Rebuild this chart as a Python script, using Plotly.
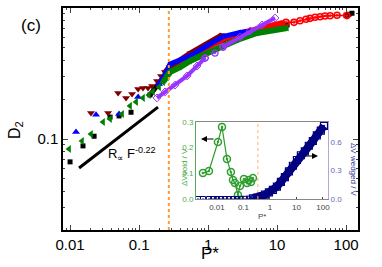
import plotly.graph_objects as go
import math

# ---------------- main panel data ----------------
black_p = [0.0100, 0.0154, 0.0223, 0.038, 0.0513, 0.0765, 0.144, 0.238, 0.548, 0.968, 1.65, 2.91, 5.13, 8.75, 14.0, 100, 110, 122]
black_d = [0.0669, 0.0886, 0.105, 0.147, 0.150, 0.160, 0.217, 0.308, 0.408, 0.504, 0.570, 0.633, 0.679, 0.716, 0.742, 0.880, 0.895, 0.912]

brown_sp_p = [0.0201, 0.0356, 0.0497, 0.0648, 0.0792, 0.0969, 0.114, 0.135, 0.154, 0.182, 0.208, 0.238]
brown_sp_d = [0.158, 0.158, 0.224, 0.206, 0.221, 0.241, 0.245, 0.245, 0.254, 0.277, 0.303, 0.325]
brown_bd_p = [0.238, 0.272, 0.548, 0.968, 1.60]
brown_bd_d = [0.325, 0.354, 0.453, 0.535, 0.625]

blue_sp_p = [0.0122, 0.0238, 0.0513, 0.0969, 0.195]
blue_sp_d = [0.113, 0.153, 0.155, 0.209, 0.263]
blue_bd_p = [0.195, 0.238, 0.281, 0.548, 0.847, 1.65, 2.91, 4.06]
blue_bd_d = [0.263, 0.308, 0.374, 0.430, 0.495, 0.605, 0.650, 0.664]

red_bd_p = [0.281, 0.548, 0.968, 1.65, 2.91, 5.13, 8.75, 12.2]
red_bd_d = [0.360, 0.430, 0.512, 0.580, 0.640, 0.691, 0.742, 0.768]
red_sp_p = [13.5, 17.6, 21.5, 26.3, 30.1, 35.6, 42.0, 49.6, 58.7, 74.0, 103]
red_sp_d = [0.777, 0.777, 0.800, 0.820, 0.834, 0.849, 0.858, 0.869, 0.873, 0.880, 0.875]

green_sp_p = [0.00967, 0.0149, 0.0201, 0.0301, 0.038, 0.0567, 0.074, 0.0906, 0.114, 0.139, 0.159, 0.195, 0.223, 0.255]
green_sp_d = [0.0839, 0.0966, 0.109, 0.135, 0.142, 0.155, 0.179, 0.192, 0.206, 0.217, 0.229, 0.249, 0.272, 0.298]
green_bd_p = [0.223, 0.255, 0.281, 0.393, 0.548, 0.847, 1.49, 2.63, 5.13, 8.47, 14.0]
green_bd_d = [0.272, 0.298, 0.325, 0.354, 0.394, 0.438, 0.504, 0.570, 0.645, 0.679, 0.704]

purple_bd_p = [0.182, 0.238, 0.333, 0.497, 0.693, 0.906]
purple_bd_d = [0.206, 0.229, 0.258, 0.303, 0.361, 0.415]
purple_sp_p = [0.906, 1.26, 1.65]
purple_sp_d = [0.415, 0.453, 0.504]
purple_bd2_p = [1.65, 2.91, 4.06, 6.06, 9.35]
purple_bd2_d = [0.504, 0.601, 0.667, 0.742, 0.839]

fit_p = [0.0135, 0.188]
fit_d = [0.060, 0.175]

pstar_line = 0.27

x_ticks = [0.01, 0.1, 1, 10, 100]
x_labels = ["0.01", "0.1", "1", "10", "100"]
y_ticks = [0.1, 1]
y_labels = ["0.1", "1"]

# ---------------- inset data ----------------
void_p = [0.00296, 0.00499, 0.0109, 0.0155, 0.0239, 0.0337, 0.0402, 0.0478, 0.062, 0.0738, 0.104, 0.136, 0.161, 0.192, 0.228]
void_v = [0.101, 0.109, 0.222, 0.281, 0.156, 0.105, 0.074, 0.062, 0.016, 0.051, 0.078, 0.062, 0.074, 0.066, 0.082]

wedged_flat_p = [0.00192, 0.00296, 0.005, 0.00706, 0.01, 0.0142, 0.02, 0.0284, 0.0402, 0.0569, 0.0805, 0.114, 0.161, 0.228]
wedged_flat_v = [0, 0, 0, 0, 0, 0, 0, 0, 0, 0, 0.001, 0.002, 0.004, 0.008]
wedged_rise_p = [0.228, 0.323, 0.457, 0.646, 0.914, 1.29, 1.83, 2.59, 3.66, 5.18, 7.33, 10.4, 14.7, 20.7, 29.3, 41.5, 58.6, 82.9, 109]
wedged_rise_v = [0.008, 0.015, 0.03, 0.045, 0.07, 0.095, 0.13, 0.18, 0.23, 0.29, 0.35, 0.41, 0.46, 0.50, 0.56, 0.61, 0.67, 0.72, 0.77]

inset_x_ticks = [0.01, 0.1, 1, 10, 100]
inset_x_labels = ["0.01", "0.1", "1", "10", "100"]
inset_left_ticks = [0.0, 0.1, 0.2, 0.3]
inset_left_labels = ["0.0", "0.1", "0.2", "0.3"]
inset_right_ticks = [0.0, 0.3, 0.6]
inset_right_labels = ["0.0", "0.3", "0.6"]

# ---------------- colours ----------------
C_BLACK = "#000000"
C_BROWN = "#800000"
C_BLUE = "#0000FF"
C_RED = "#FF0000"
C_GREEN = "#008000"
C_PURPLE = "#9933FF"
C_ORANGE = "#FF9933"
C_IGREEN = "#2E9E2E"
C_NAVY = "#000080"

W, H = 382, 267
ML, MR, MT, MB = 63, 24, 8, 37
PW, PH = W - ML - MR, H - MT - MB


def px(x):
    return (x - ML) / PW


def py(y):
    return (H - MB - y) / PH


fig = go.Figure()


def sparse(p, d, color, symbol, size=7, xa="x", ya="y"):
    fig.add_trace(go.Scatter(x=p, y=d, mode="markers", xaxis=xa, yaxis=ya,
                             marker=dict(color=color, symbol=symbol, size=size,
                                         line=dict(width=0, color=color)),
                             showlegend=False, hoverinfo="skip"))


def band(p, d, color, symbol, size=6, width=5):
    fig.add_trace(go.Scatter(x=p, y=d, mode="lines+markers",
                             line=dict(color=color, width=width),
                             marker=dict(color=color, symbol=symbol, size=size),
                             showlegend=False, hoverinfo="skip"))


# black squares
band(black_p[6:15], black_d[6:15], C_BLACK, "square", 5, 5)
sparse(black_p[:6], black_d[:6], C_BLACK, "square", 5)
band(black_p[15:], black_d[15:], C_BLACK, "square", 5, 4)
# red circles (under the others on the left)
band(red_bd_p, red_bd_d, C_RED, "circle", 5, 6)
fig.add_trace(go.Scatter(x=red_sp_p, y=red_sp_d, mode="lines+markers",
                         line=dict(color=C_RED, width=1.5),
                         marker=dict(color=C_RED, symbol="circle-open-dot", size=6, line=dict(width=1.6)),
                         showlegend=False, hoverinfo="skip"))
# brown down-triangles
sparse(brown_sp_p, brown_sp_d, C_BROWN, "triangle-down", 7)
band(brown_bd_p, brown_bd_d, C_BROWN, "triangle-down", 6, 5)
# blue up-triangles
sparse(blue_sp_p, blue_sp_d, C_BLUE, "triangle-up", 7)
band(blue_bd_p, blue_bd_d, C_BLUE, "triangle-up", 6, 5)
# green left-triangles
sparse(green_sp_p, green_sp_d, C_GREEN, "triangle-left", 7)
band(green_bd_p, green_bd_d, C_GREEN, "triangle-left", 6, 6)
# purple diamonds
band(purple_bd_p, purple_bd_d, C_PURPLE, "diamond-open", 6, 4)
fig.add_trace(go.Scatter(x=purple_sp_p, y=purple_sp_d, mode="markers",
                         marker=dict(color=C_PURPLE, symbol="circle-open-dot", size=6, line=dict(width=1.3)),
                         showlegend=False, hoverinfo="skip"))
band(purple_bd2_p, purple_bd2_d, C_PURPLE, "diamond-open", 6, 4)

# power-law guide line
fig.add_trace(go.Scatter(x=fit_p, y=fit_d, mode="lines", line=dict(color="black", width=3),
                         showlegend=False, hoverinfo="skip"))

# ---------------- inset traces ----------------
fig.add_trace(go.Scatter(x=wedged_flat_p, y=wedged_flat_v, mode="markers", xaxis="x2", yaxis="y3",
                         marker=dict(color=C_NAVY, symbol="square-open-dot", size=5, line=dict(width=1)),
                         showlegend=False, hoverinfo="skip"))
fig.add_trace(go.Scatter(x=wedged_rise_p, y=wedged_rise_v, mode="lines+markers", xaxis="x2", yaxis="y3",
                         line=dict(color=C_NAVY, width=8),
                         marker=dict(color=C_NAVY, symbol="square-open-dot", size=7, line=dict(width=1.2)),
                         showlegend=False, hoverinfo="skip"))
fig.add_trace(go.Scatter(x=void_p, y=void_v, mode="lines+markers", xaxis="x2", yaxis="y2",
                         line=dict(color=C_IGREEN, width=1.2),
                         marker=dict(color=C_IGREEN, symbol="circle-open-dot", size=7,
                                     line=dict(width=1.5, color=C_IGREEN)),
                         showlegend=False, hoverinfo="skip"))

FONT = "Liberation Sans, Arial, sans-serif"

fig.update_layout(
    width=W, height=H,
    margin=dict(l=ML, r=MR, t=MT, b=MB, autoexpand=False),
    paper_bgcolor="white", plot_bgcolor="white",
    font=dict(family=FONT, color="black"),
    xaxis=dict(type="log", range=[math.log10(0.0079), math.log10(149)], automargin=False,
               tickvals=x_ticks, ticktext=x_labels, tickfont=dict(size=15),
               ticks="inside", ticklen=5, tickwidth=1, showline=True, linecolor="black",
               linewidth=1.5, mirror="allticks", showgrid=False, zeroline=False,
               minor=dict(ticks="inside", ticklen=2.5, tickwidth=0.8, dtick="D1", showgrid=False)),
    yaxis=dict(type="log", range=[math.log10(0.0202), 0], automargin=False,
               tickvals=y_ticks, ticktext=y_labels, tickfont=dict(size=15),
               ticks="inside", ticklen=5, tickwidth=1, showline=True, linecolor="black",
               linewidth=1.5, mirror="allticks", showgrid=False, zeroline=False,
               minor=dict(ticks="inside", ticklen=2.5, tickwidth=0.8, dtick="D1", showgrid=False)),
    xaxis2=dict(type="log", domain=[px(196), px(328)], anchor="y2", automargin=False,
                range=[-2.79, 2.19], tickvals=inset_x_ticks, ticktext=inset_x_labels,
                tickfont=dict(size=8, color="#444444"), ticks="inside", ticklen=2,
                showline=True, linecolor="#888888", linewidth=1, mirror=True,
                showgrid=False, zeroline=False),
    yaxis2=dict(domain=[py(199), py(122)], anchor="x2", range=[0, 0.3], automargin=False,
                tickvals=inset_left_ticks, ticktext=inset_left_labels,
                tickfont=dict(size=8, color="#55AA55"), ticks="", showline=True,
                linecolor="#55AA55", linewidth=1, showgrid=False, zeroline=False),
    yaxis3=dict(overlaying="y2", anchor="x2", side="right", range=[0, 0.81], automargin=False,
                tickvals=inset_right_ticks, ticktext=inset_right_labels,
                tickfont=dict(size=8, color="#6666BB"), ticks="", showline=True,
                linecolor="#AAAADD", linewidth=1, showgrid=False, zeroline=False),
)

# orange dashed vertical lines
fig.add_shape(type="line", xref="x", yref="paper", x0=pstar_line, x1=pstar_line, y0=0, y1=1,
              line=dict(color=C_ORANGE, width=2, dash="dot"))
fig.add_shape(type="line", xref="x2", yref="y2", x0=0.35, x1=0.35, y0=0, y1=0.3,
              line=dict(color="#FFB266", width=1, dash="dot"))

ann = [
    dict(text="(c)", x=px(31), y=py(25), font=dict(size=17)),
    dict(text="D<sub>2</sub>", x=px(15), y=py(130), font=dict(size=16), textangle=-90),
    dict(text="P*", x=px(210), y=py(253), font=dict(size=17)),
    dict(text="R<sub>∝</sub> F<sup>-0.22</sup>", x=px(132), y=py(154), font=dict(size=13)),
    dict(text="ΔVvoid / V", x=px(184), y=py(167), font=dict(size=8, color="#44AA44"), textangle=-90),
    dict(text="ΔV wedged / V", x=px(354), y=py(170), font=dict(size=8, color="#333399"), textangle=90),
    dict(text="P*", x=px(262), y=py(216), font=dict(size=8, color="#444444")),
]
for a in ann:
    fig.add_annotation(xref="paper", yref="paper", showarrow=False, xanchor="center", yanchor="middle", **a)

# inset arrows
fig.add_annotation(xref="paper", yref="paper", x=px(201), y=py(139), ax=14, ay=0,
                   showarrow=True, arrowhead=2, arrowsize=1, arrowwidth=1.2, arrowcolor="black", text="")
fig.add_annotation(xref="paper", yref="paper", x=px(318), y=py(156), ax=-14, ay=0,
                   showarrow=True, arrowhead=2, arrowsize=1, arrowwidth=1.2, arrowcolor="black", text="")

fig.write_html("out.html", config={"displayModeBar": False},
               post_script="document.body.style.margin='0px';")
